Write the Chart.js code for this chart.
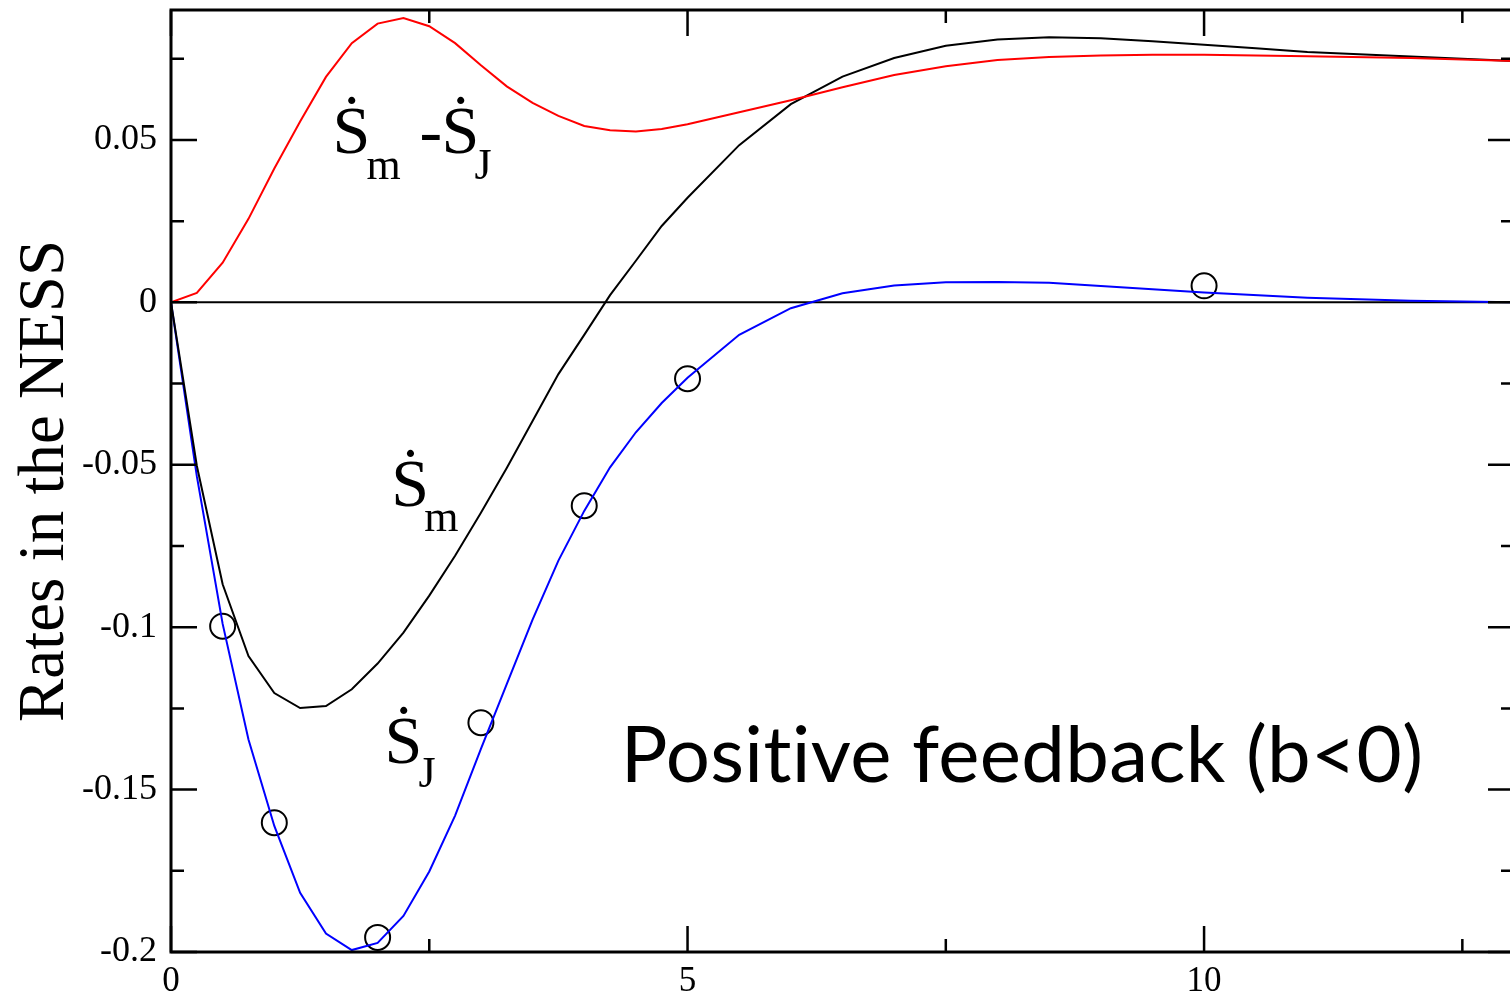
<!DOCTYPE html>
<html>
<head>
<meta charset="utf-8">
<script src="https://cdn.jsdelivr.net/npm/chart.js@4.4.1/dist/chart.umd.min.js"></script>
<style>
  html, body { margin: 0; padding: 0; overflow: hidden; background: #fff; }
  #canvas { position: absolute; left: 0; top: 0; }
</style>
</head>
<body>
<canvas id="canvas" width="1520" height="995"></canvas>
<script>
// Sdot_m - Sdot_J (red)
const diffX = [0, 0.25, 0.5, 0.75, 1, 1.25, 1.5, 1.75, 2, 2.25, 2.5, 2.75, 3, 3.25, 3.5, 3.75, 4, 4.25, 4.5, 4.75, 5, 5.5, 6, 6.5, 7, 7.5, 8, 8.5, 9, 9.5, 10, 11, 12, 13];
const diffY = [0, 0.0029, 0.0122, 0.0257, 0.0412, 0.0557, 0.0694, 0.0798, 0.0858, 0.0875, 0.0850, 0.0798, 0.0730, 0.0665, 0.0614, 0.0574, 0.0543, 0.0530, 0.0526, 0.0534, 0.0548, 0.0585, 0.0622, 0.0662, 0.0700, 0.0727, 0.0746, 0.0755, 0.0760, 0.0762, 0.0762, 0.0758, 0.0752, 0.0743];

// Sdot_m (black)
const smX = [0, 0.25, 0.5, 0.75, 1, 1.25, 1.5, 1.75, 2, 2.25, 2.5, 2.75, 3, 3.25, 3.5, 3.75, 4, 4.25, 4.5, 4.75, 5, 5.5, 6, 6.5, 7, 7.5, 8, 8.5, 9, 9.5, 10, 10.5, 11, 12, 13];
const smY = [0, -0.0503, -0.0868, -0.1089, -0.1203, -0.1249, -0.1243, -0.1191, -0.1112, -0.1017, -0.0903, -0.0780, -0.0648, -0.0510, -0.0365, -0.0221, -0.0100, 0.0022, 0.0128, 0.0235, 0.0322, 0.0484, 0.0610, 0.0695, 0.0752, 0.0790, 0.0809, 0.0816, 0.0813, 0.0804, 0.0793, 0.0782, 0.0771, 0.0757, 0.0743];

// Sdot_J (blue)
const sjX = [0, 0.25, 0.5, 0.75, 1, 1.25, 1.5, 1.75, 2, 2.25, 2.5, 2.75, 3, 3.25, 3.5, 3.75, 4, 4.25, 4.5, 4.75, 5, 5.5, 6, 6.5, 7, 7.5, 8, 8.5, 9, 9.5, 10, 11, 12, 13];
const sjY = [0, -0.0535, -0.0990, -0.1346, -0.1612, -0.1818, -0.1943, -0.1994, -0.1972, -0.1889, -0.1752, -0.1580, -0.1375, -0.1175, -0.0977, -0.0795, -0.0642, -0.0508, -0.0400, -0.0310, -0.0232, -0.0100, -0.0018, 0.0028, 0.0052, 0.0062, 0.0063, 0.0060, 0.0050, 0.0040, 0.0030, 0.0014, 0.0005, 0];

// simulation points (open circles)
const simX = [0.5, 1, 2, 3, 4, 5, 10];
const simY = [-0.0997, -0.1602, -0.1955, -0.1294, -0.0626, -0.0235, 0.0051];

// zero line
const zeroX = [0, 13];
const zeroY = [0, 0];

// ticks
const xMajor = [0, 5, 10];
const xMinor = [2.5, 7.5, 12.5];
const yMajor = [-0.2, -0.15, -0.1, -0.05, 0, 0.05];
const yMinor = [-0.175, -0.125, -0.075, -0.025, 0.025, 0.075];

function pts(xs, ys) {
    return xs.map((x, i) => ({ x: x, y: ys[i] }));
}

const serif = '"Liberation Serif", "Times New Roman", serif';

// frame + inward ticks on all four sides
const framePlugin = {
    id: 'frame',
    afterDraw(chart) {
        const c = chart.ctx, a = chart.chartArea;
        const xs = chart.scales.x, ys = chart.scales.y;
        c.save();
        c.strokeStyle = '#000';
        c.lineWidth = 2.5;
        c.beginPath();
        xMajor.concat(xMinor).forEach(v => {
            const len = xMajor.includes(v) ? 26 : 13;
            const px = xs.getPixelForValue(v);
            c.moveTo(px, a.bottom); c.lineTo(px, a.bottom - len);
            c.moveTo(px, a.top); c.lineTo(px, a.top + len);
        });
        yMajor.concat(yMinor).forEach(v => {
            const len = yMajor.includes(v) ? 26 : 13;
            const py = ys.getPixelForValue(v);
            c.moveTo(a.left, py); c.lineTo(a.left + len, py);
            c.moveTo(a.right, py); c.lineTo(a.right - len, py);
        });
        c.stroke();
        c.lineWidth = 3;
        c.strokeRect(a.left, a.top, a.right - a.left, a.bottom - a.top);
        c.restore();
    }
};

// curve labels and the panel caption
const labelPlugin = {
    id: 'labels',
    afterDatasetsDraw(chart) {
        const c = chart.ctx;
        const xs = chart.scales.x, ys = chart.scales.y;
        const big = '68px ' + serif, small = '44px ' + serif;
        function put(text, font, x, y) {
            c.font = font;
            c.fillText(text, x, y);
        }
        c.save();
        c.fillStyle = '#000';
        c.textBaseline = 'alphabetic';
        c.textAlign = 'left';

        let x = xs.getPixelForValue(1.564), y = ys.getPixelForValue(0.046);
        put('Ṡ', big, x, y);
        put('m', small, x + 34, y + 26);
        put('-', big, x + 87, y);
        put('Ṡ', big, x + 109, y);
        put('J', small, x + 142, y + 26);

        x = xs.getPixelForValue(2.133); y = ys.getPixelForValue(-0.0626);
        put('Ṡ', big, x, y);
        put('m', small, x + 33, y + 25);

        x = xs.getPixelForValue(2.066); y = ys.getPixelForValue(-0.1417);
        put('Ṡ', big, x, y);
        put('J', small, x + 34, y + 24);

        x = xs.getPixelForValue(4.353); y = ys.getPixelForValue(-0.1478);
        c.letterSpacing = '0.3px';
        put('Positive feedback (b<0)', '78px Lato, "Open Sans", sans-serif', x, y);
        c.restore();
    }
};

const ctx = document.getElementById('canvas').getContext('2d');
window.myChart = new Chart(ctx, {
    type: 'scatter',
    data: {
        datasets: [{
            label: 'Sm - SJ',
            data: pts(diffX, diffY),
            showLine: true,
            borderColor: '#ff0000',
            borderWidth: 2,
            pointRadius: 0
        }, {
            label: 'Sm',
            data: pts(smX, smY),
            showLine: true,
            borderColor: '#000000',
            borderWidth: 2,
            pointRadius: 0
        }, {
            label: 'SJ',
            data: pts(sjX, sjY),
            showLine: true,
            borderColor: '#0000ff',
            borderWidth: 2,
            pointRadius: 0
        }, {
            label: 'zero',
            data: pts(zeroX, zeroY),
            showLine: true,
            borderColor: '#000000',
            borderWidth: 2,
            pointRadius: 0
        }, {
            label: 'simulation',
            data: pts(simX, simY),
            showLine: false,
            borderColor: '#000000',
            backgroundColor: 'rgba(0,0,0,0)',
            borderWidth: 2,
            pointRadius: 12.5
        }]
    },
    options: {
        responsive: false,
        animation: false,
        layout: { autoPadding: false, padding: { top: 10, right: 6, left: 0, bottom: 0 } },
        plugins: {
            legend: { display: false },
            tooltip: { enabled: false }
        },
        scales: {
            x: {
                type: 'linear',
                min: 0,
                max: 13,
                afterBuildTicks: s => { s.ticks = xMajor.map(v => ({ value: v })); },
                afterFit: s => {
                    s.height = 43;
                    s.paddingLeft = 0; s.paddingRight = 0;
                },
                grid: { display: false, drawTicks: false },
                border: { display: false },
                ticks: {
                    color: '#000',
                    font: { family: serif, size: 35 },
                    padding: 9,
                    maxRotation: 0,
                    autoSkip: false,
                    callback: v => String(v)
                }
            },
            y: {
                type: 'linear',
                min: -0.2,
                max: 0.09,
                afterBuildTicks: s => { s.ticks = yMajor.map(v => ({ value: v })); },
                afterFit: s => {
                    s.width = 171;
                    s.paddingTop = 0; s.paddingBottom = 0;
                },
                grid: { display: false, drawTicks: false },
                border: { display: false },
                ticks: {
                    color: '#000',
                    font: { family: serif, size: 36 },
                    padding: 14,
                    autoSkip: false,
                    callback: v => String(v)
                },
                title: {
                    display: true,
                    text: 'Rates in the NESS',
                    color: '#000',
                    font: { family: serif, size: 65 },
                    padding: { top: 7, bottom: 0 }
                }
            }
        }
    },
    plugins: [framePlugin, labelPlugin]
});
</script>
</body>
</html>
